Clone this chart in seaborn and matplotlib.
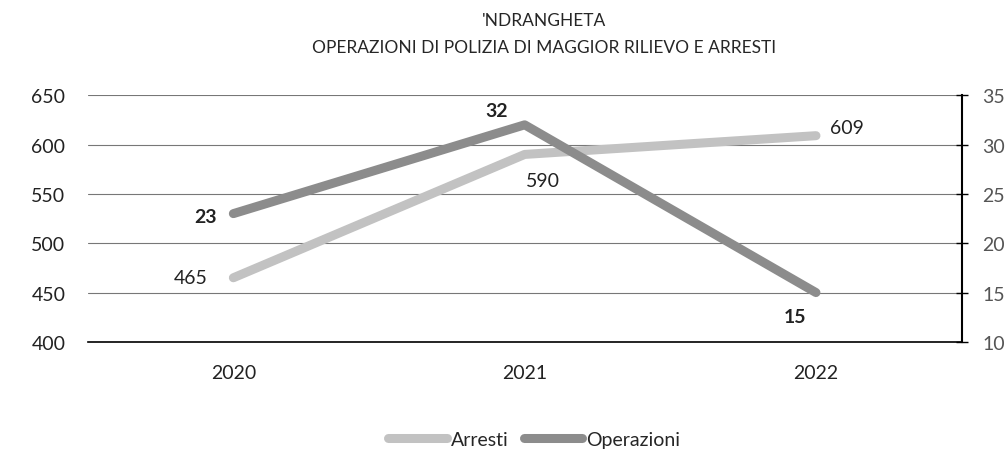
import matplotlib.pyplot as plt
import pandas as pd
import seaborn as sns

# Data
anni = ['2020', '2021', '2022']
arresti = [465, 590, 609]
operazioni = [23, 32, 15]

df = pd.DataFrame({'anno': anni, 'Arresti': arresti, 'Operazioni': operazioni})

sns.set_style('white')
plt.rcParams['font.family'] = ['Lato', 'DejaVu Sans']

fig = plt.figure(figsize=(10.08, 4.56), dpi=100)
ax = fig.add_axes([0.087, 0.248, 0.867, 0.541])
ax2 = ax.twinx()

c_arr = '#c2c2c2'
c_op = '#8c8c8c'

sns.lineplot(x='anno', y='Arresti', data=df, ax=ax, color=c_arr,
             linewidth=6.5, solid_capstyle='round', label='Arresti', legend=False)
sns.lineplot(x='anno', y='Operazioni', data=df, ax=ax2, color=c_op,
             linewidth=6.5, solid_capstyle='round', label='Operazioni', legend=False)

ax.set_xlim(-0.5, 2.5)
ax.set_ylim(400, 650)
ax.set_yticks(range(400, 651, 50))
ax2.set_ylim(10, 35)
ax2.set_yticks(range(10, 36, 5))

ax.set_xlabel('')
ax.set_ylabel('')
ax2.set_ylabel('')

# grid and spines
ax.grid(axis='y', color='#777777', linewidth=0.8)
ax.set_axisbelow(True)
for a in (ax, ax2):
    for s in ('left', 'top', 'right', 'bottom'):
        a.spines[s].set_visible(False)
ax.spines['bottom'].set_visible(True)
ax.spines['bottom'].set_color('black')
ax.spines['bottom'].set_linewidth(1.2)
ax2.spines['right'].set_visible(True)
ax2.spines['right'].set_color('black')
ax2.spines['right'].set_linewidth(1.5)

ax.tick_params(axis='y', length=0, labelsize=14, pad=16, colors='#222222')
ax.tick_params(axis='x', length=0, labelsize=14, pad=16, colors='#222222')
ax2.tick_params(axis='y', direction='inout', length=8, width=1, color='black',
                labelsize=14, labelcolor='#555555', pad=11)

# data labels (offsets in points from each point)
off1 = [(-31, 0), (13, -19), (22, 6)]
for i, v in enumerate(arresti):
    ax.annotate(str(v), (i, v), xytext=off1[i], textcoords='offset points',
                ha='center', va='center', fontsize=14, color='#222222')
off2 = [(-20, -2), (-20, 10), (-15, -17)]
for i, v in enumerate(operazioni):
    ax2.annotate(str(v), (i, v), xytext=off2[i], textcoords='offset points',
                 ha='center', va='center', fontsize=14, fontweight='bold',
                 color='#222222')

fig.text(0.54, 0.955, "'NDRANGHETA", ha='center', va='center', fontsize=12.5)
fig.text(0.54, 0.895, 'OPERAZIONI DI POLIZIA DI MAGGIOR RILIEVO E ARRESTI',
         ha='center', va='center', fontsize=12.5)

h1, l1 = ax.get_legend_handles_labels()
h2, l2 = ax2.get_legend_handles_labels()
fig.legend(h1 + h2, l1 + l2, loc='center', bbox_to_anchor=(0.53, 0.035),
           ncol=2, frameon=False, fontsize=14, handlelength=3.0,
           handletextpad=0.2, columnspacing=0.8)

fig.savefig('out.png', dpi=100)
